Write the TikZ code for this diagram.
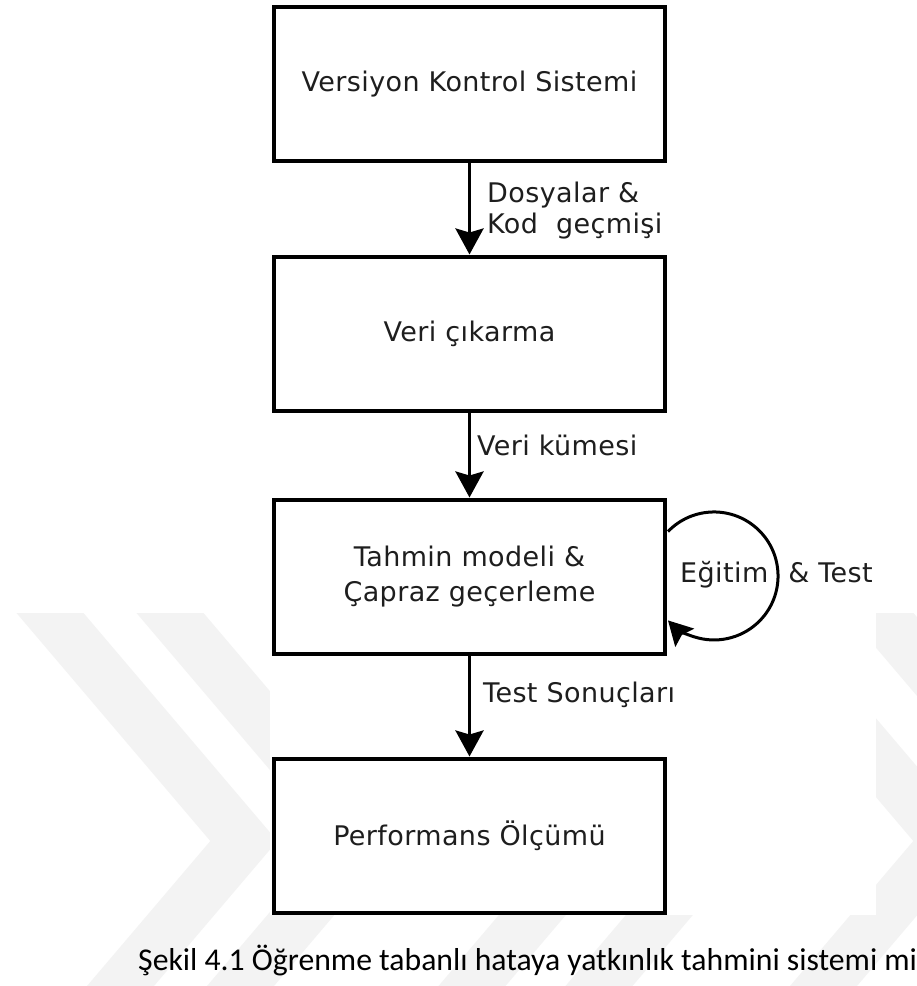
\documentclass[tikz,border=0pt]{standalone}
\usepackage{fontspec}
\setmainfont{DejaVu Sans}
\newfontfamily\diafont[LetterSpace=1.5]{DejaVu Sans}
\newfontfamily\capfont{Carlito}
\usetikzlibrary{arrows.meta,calc}

\definecolor{wmark}{RGB}{243,243,243}
\definecolor{ink}{RGB}{30,30,30}

% one light background chevron, #1 = x of the top of its band
\newcommand\wchev[1]{%
  \fill[wmark] (#1-33.5,613) -- (#1+33.5,613) -- (#1+227.3,841)
    -- (#1+92.1,1000) -- (#1+25.1,1000) -- (#1+160.3,841) -- cycle;}

\begin{document}
\begin{tikzpicture}[x=1pt,y=-1pt,
  procbox/.style={draw=black, line width=4pt, fill=white,
    minimum width=391pt, minimum height=154pt, inner sep=0pt,
    font=\diafont\fontsize{27}{35}\selectfont, text=ink, align=center},
  flow/.style={line width=3.5pt,
    -{Stealth[length=26pt,width=28pt,inset=4pt]}},
  loopline/.style={line width=3pt,
    -{Stealth[length=24pt,width=26pt,inset=4pt]}},
  flowlabel/.style={font=\diafont\fontsize{27}{31}\selectfont,
    text=ink, align=left, inner sep=0pt, anchor=west},
  caption/.style={font=\capfont\fontsize{31.7}{36}\selectfont,
    text=black, inner sep=0pt, anchor=base west}]

\useasboundingbox (0,0) rectangle (917,986);
\fill[white] (0,0) rectangle (917,986);

% background watermark
\foreach \t in {50,170,401.5,528.5,753,880} {\wchev{\t}}
\fill[white] (270,0) rectangle (876,915);

% process boxes
\node[procbox] (b1) at (469.5,84)    {Versiyon Kontrol Sistemi};
\node[procbox] (b2) at (469.5,333.5) {Veri çıkarma};
\node[procbox] (b3) at (469.5,576.5) {Tahmin modeli \&\\Çapraz geçerleme};
\node[procbox] (b4) at (469.5,835.5) {Performans Ölçümü};

% flow between the boxes
\draw[flow] (b1.south) -- (b2.north);
\draw[flow] (b2.south) -- (b3.north);
\draw[flow] (b3.south) -- (b4.north);

\node[flowlabel] (l1) at (487,211) {Dosyalar \&\\Kod\ \ geçmişi};
\node[flowlabel] (l2) at (477,445) {Veri kümesi};
\node[flowlabel] (l3) at (483,695) {Test Sonuçları};

% training / test loop on the model box
\coordinate (loopstart) at ($(b3.east)+(1,-45)$);
\draw[loopline] (loopstart) arc[start angle=-136, end angle=136, radius=64];
\node[flowlabel] (l4) at (680,575) {Eğitim\hspace*{11pt} \& Test};

% caption
\node[caption] (cap) at (138,970)
  {Şekil 4.1 Öğrenme tabanlı hataya yatkınlık tahmini sistemi mi};
\end{tikzpicture}
\end{document}
